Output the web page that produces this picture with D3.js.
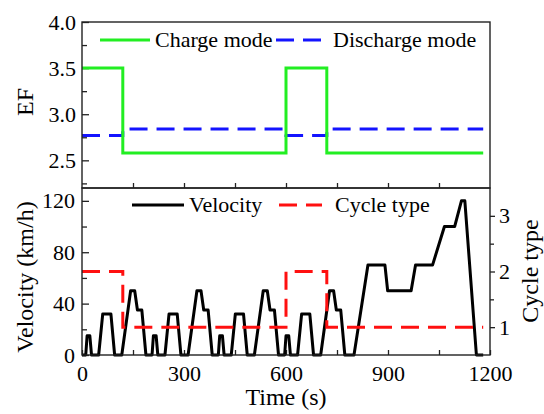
<!DOCTYPE html>
<html>
<head>
<meta charset="utf-8">
<script src="https://cdn.jsdelivr.net/npm/d3@7"></script>
<style>
  body { margin:0; background:#fff; }
  svg text { font-family:"Liberation Serif","Times New Roman",serif !important; fill:#000; }
</style>
</head>
<body>
<div class="dgraph"></div>
<script>
// ---- data ----
// EF panel, step series (value holds until next time)
var modeTime = [0, 120, 600, 720, 1180];
var chargeEF = [3.5, 2.58, 3.5, 2.58, 2.58];
var dischargeEF = [2.77, 2.84, 2.77, 2.84, 2.84];
var cycleType = [2, 1, 2, 1, 1];

// velocity trace (4 urban blocks then extra-urban part)
var velTime = [0, 11, 15, 23, 28, 49, 61, 85, 96, 117, 143, 155, 163, 176, 188,
  195, 206, 210, 218, 223, 244, 256, 280, 291, 312, 338, 350, 358, 371, 383,
  390, 401, 405, 413, 418, 439, 451, 475, 486, 507, 533, 545, 553, 566, 578,
  585, 596, 600, 608, 613, 634, 646, 670, 681, 702, 728, 740, 748, 761, 773,
  780, 800, 841, 891, 899, 968, 981, 1031, 1066, 1096, 1116, 1126, 1160, 1180];
var velocity = [0, 0, 15, 15, 0, 0, 32, 32, 0, 0, 50, 50, 35, 35, 0,
  0, 0, 15, 15, 0, 0, 32, 32, 0, 0, 50, 50, 35, 35, 0,
  0, 0, 15, 15, 0, 0, 32, 32, 0, 0, 50, 50, 35, 35, 0,
  0, 0, 15, 15, 0, 0, 32, 32, 0, 0, 50, 50, 35, 35, 0,
  0, 0, 70, 70, 50, 50, 70, 70, 100, 100, 120, 120, 0, 0];

var xTicks = [0, 300, 600, 900, 1200];
var xMinor = [150, 450, 750, 1050];
var efTicks = [2.5, 3.0, 3.5, 4.0];
var efMinor = [2.25, 2.75, 3.25, 3.75];
var velTicks = [0, 40, 80, 120];
var velMinor = [20, 60, 100];
var cycTicks = [1, 2, 3];
var cycMinor = [1.5, 2.5];

var width = 544, height = 414;
var left = 82, right = 490, top1 = 22, mid = 188, bot = 355;
var serif = "Liberation Serif, Times New Roman, serif";

var svg = d3.select("body .dgraph").append("svg")
  .attr("width", width).attr("height", height);

var x = d3.scaleLinear().domain([0, 1200]).range([left, right]);
var yEF = d3.scaleLinear().domain([2.2, 4.0]).range([mid, top1]);
var yV = d3.scaleLinear().domain([0, 130]).range([bot, mid]);
var yC = d3.scaleLinear().domain([0.5, 3.5]).range([bot, mid]);

function pts(xs, ys) {
  return xs.map(function(d, i){ return [d, ys[i]]; });
}

// axes helper - strips the domain path, sets font
function styleAxis(g) {
  g.attr("font-family", serif).attr("font-size", 22);
  g.select(".domain").remove();
  g.selectAll("line").attr("stroke", "#222").attr("stroke-width", 1.3);
  g.selectAll("text").attr("fill", "#000");
}

// ---- top panel axes ----
svg.append("g").attr("transform", "translate(" + left + ",0)")
  .call(d3.axisLeft(yEF).tickValues(efTicks).tickFormat(d3.format(".1f"))
    .tickSizeInner(-7).tickSizeOuter(0).tickPadding(6))
  .call(styleAxis);
svg.append("g").attr("transform", "translate(" + left + ",0)")
  .call(d3.axisLeft(yEF).tickValues(efMinor).tickFormat("")
    .tickSizeInner(-5).tickSizeOuter(0))
  .call(styleAxis);
svg.append("g").attr("transform", "translate(0," + mid + ")")
  .call(d3.axisBottom(x).tickValues(xMinor.concat([300, 600, 900])).tickFormat("")
    .tickSizeInner(-5).tickSizeOuter(0))
  .call(styleAxis);

// ---- bottom panel axes ----
svg.append("g").attr("transform", "translate(" + (left - 7) + ",0)")
  .call(d3.axisLeft(yV).tickValues(velTicks).tickFormat(d3.format("d")).tickSize(0).tickPadding(0))
  .call(styleAxis);
svg.append("g").attr("transform", "translate(" + left + ",0)")
  .call(d3.axisLeft(yV).tickValues(velTicks).tickFormat("")
    .tickSizeInner(-7).tickSizeOuter(0))
  .call(styleAxis);
svg.append("g").attr("transform", "translate(" + left + ",0)")
  .call(d3.axisLeft(yV).tickValues(velMinor).tickFormat("")
    .tickSizeInner(-5).tickSizeOuter(0))
  .call(styleAxis);
svg.append("g").attr("transform", "translate(0," + bot + ")")
  .call(d3.axisBottom(x).tickValues(xTicks).tickFormat(d3.format("d"))
    .tickSizeInner(-5).tickSizeOuter(0).tickPadding(10))
  .call(styleAxis);
svg.append("g").attr("transform", "translate(0," + bot + ")")
  .call(d3.axisBottom(x).tickValues(xMinor).tickFormat("")
    .tickSizeInner(-5).tickSizeOuter(0))
  .call(styleAxis);
svg.append("g").attr("transform", "translate(" + right + ",0)")
  .call(d3.axisRight(yC).tickValues(cycTicks).tickFormat(d3.format("d"))
    .tickSizeInner(5).tickSizeOuter(0).tickPadding(4))
  .call(styleAxis);
svg.append("g").attr("transform", "translate(" + right + ",0)")
  .call(d3.axisRight(yC).tickValues(cycMinor).tickFormat("")
    .tickSizeInner(4).tickSizeOuter(0))
  .call(styleAxis);

// ---- lines ----
var stepLine = function(ys, ysc) {
  return d3.line().curve(d3.curveStepAfter)
    .x(function(d){ return x(d[0]); })
    .y(function(d){ return ysc(d[1]); })(pts(modeTime, ys));
};

svg.append("path").attr("d", stepLine(dischargeEF, yEF))
  .attr("fill", "none").attr("stroke", "#1414ff").attr("stroke-width", 3)
  .attr("stroke-dasharray", "18,9");
svg.append("path").attr("d", stepLine(chargeEF, yEF))
  .attr("fill", "none").attr("stroke", "#22ee22").attr("stroke-width", 3);

var vline = d3.line().x(function(d){ return x(d[0]); }).y(function(d){ return yV(d[1]); });
svg.append("path").attr("d", vline(pts(velTime, velocity)))
  .attr("fill", "none").attr("stroke", "#000").attr("stroke-width", 3)
  .attr("stroke-linejoin", "round");
svg.append("path").attr("d", stepLine(cycleType, yC))
  .attr("fill", "none").attr("stroke", "#ff1010").attr("stroke-width", 3)
  .attr("stroke-dasharray", "18,9");

// frames
svg.append("rect").attr("x", left).attr("y", top1).attr("width", right - left).attr("height", mid - top1)
  .attr("fill", "none").attr("stroke", "#222").attr("stroke-width", 1.4);
svg.append("rect").attr("x", left).attr("y", mid).attr("width", right - left).attr("height", bot - mid)
  .attr("fill", "none").attr("stroke", "#222").attr("stroke-width", 1.4);

// ---- legends ----
function legendItem(x1, x2, y, color, dash, label, tx) {
  svg.append("line").attr("x1", x1).attr("x2", x2).attr("y1", y).attr("y2", y)
    .attr("stroke", color).attr("stroke-width", 3).attr("stroke-dasharray", dash);
  svg.append("text").attr("x", tx).attr("y", y + 7).attr("font-size", 22).text(label);
}
legendItem(100, 150, 40, "#22ee22", null, "Charge mode", 155);
legendItem(276, 321, 40, "#1414ff", "18,9", "Discharge mode", 333);
legendItem(132, 184, 205, "#000", null, "Velocity", 189);
legendItem(279, 322, 205, "#ff1010", "18,9", "Cycle type", 335);

// ---- axis titles ----
svg.append("text").attr("x", (left + right) / 2).attr("y", 405)
  .attr("text-anchor", "middle").attr("font-size", 24).text("Time (s)");
svg.append("text").attr("transform", "translate(33,102) rotate(-90)")
  .attr("text-anchor", "middle").attr("font-size", 24).text("EF");
svg.append("text").attr("transform", "translate(33,277) rotate(-90)")
  .attr("text-anchor", "middle").attr("font-size", 24).text("Velocity (km/h)");
svg.append("text").attr("transform", "translate(538,271) rotate(-90)")
  .attr("text-anchor", "middle").attr("font-size", 24).text("Cycle type");
</script>
</body>
</html>
